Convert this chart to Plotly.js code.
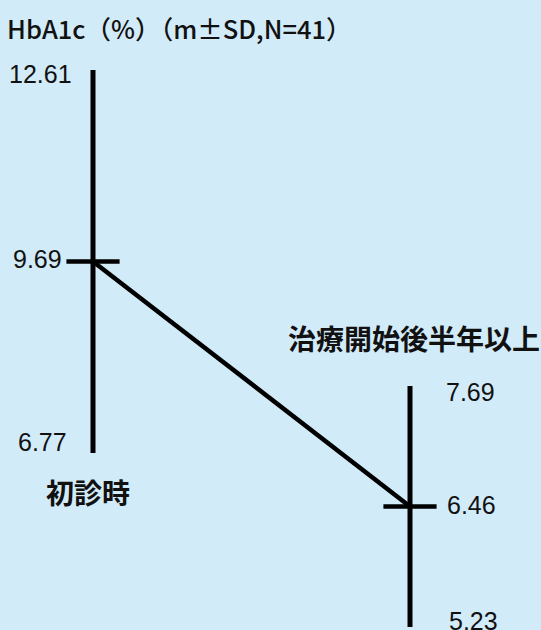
<!DOCTYPE html>
<html>
<head>
<meta charset="utf-8">
<script src="https://cdn.plot.ly/plotly-3.0.1.min.js"></script>
<style>html,body{margin:0;padding:0;background:#d1ebf9;}#chart{width:541px;height:630px;}</style>
</head>
<body>
<div id="chart"></div>
<script>
// Data
const categories = ["初診時", "治療開始後半年以上"];
const meanValues = [9.69, 6.46];
const sdValues = [2.92, 1.23];
const upperLabels = ["12.61", "7.69"];
const meanLabels = ["9.69", "6.46"];
const lowerLabels = ["6.77", "5.23"];
const titleText = "HbA1c（%）（m±SD,N=41）";

const bg = "#d1ebf9";
const y1Range = [4.071, 13.677];
const y2Range = [5.199, 11.630];

function toY1(v2) {
  return y1Range[0] + (v2 - y2Range[0]) / (y2Range[1] - y2Range[0]) * (y1Range[1] - y1Range[0]);
}

const upper = meanValues.map((m, i) => m + sdValues[i]);
const lower = meanValues.map((m, i) => m - sdValues[i]);

const traces = [];
// connecting line of means
traces.push({
  x: [0, 1], y: [meanValues[0], toY1(meanValues[1])],
  mode: "lines", line: {color: "#000", width: 4.5}, yaxis: "y",
  hoverinfo: "skip", showlegend: false
});
const yaxes = ["y", "y2"];
for (let i = 0; i < 2; i++) {
  traces.push({
    x: [i], y: [meanValues[i]], yaxis: yaxes[i],
    mode: "markers",
    marker: {symbol: "line-ew-open", size: 38, color: "#000", line: {color: "#000", width: 4.5}},
    error_y: {type: "data", array: [sdValues[i]], symmetric: true, width: 0, thickness: 5, color: "#000"},
    hoverinfo: "skip", showlegend: false
  });
}

const numFont = {family: "Liberation Sans, Arial, sans-serif", size: 25, color: "#111"};
const catFont = {family: "Noto Sans CJK JP", size: 28, color: "#111", weight: "bold"};

const annotations = [
  {x: 0, y: upper[0], yref: "y", text: upperLabels[0], xanchor: "right", yanchor: "middle", xshift: -19, yshift: -4, font: numFont},
  {x: 0, y: meanValues[0], yref: "y", text: meanLabels[0], xanchor: "right", yanchor: "middle", xshift: -29, yshift: 2, font: numFont},
  {x: 0, y: lower[0], yref: "y", text: lowerLabels[0], xanchor: "right", yanchor: "middle", xshift: -24, yshift: 11, font: numFont},
  {x: 0, y: lower[0], yref: "y", text: categories[0], xanchor: "center", yanchor: "middle", xshift: -5, yshift: -39, font: catFont},
  {x: 1, y: upper[1], yref: "y2", text: upperLabels[1], xanchor: "left", yanchor: "middle", xshift: 34, yshift: -6, font: numFont},
  {x: 1, y: meanValues[1], yref: "y2", text: meanLabels[1], xanchor: "left", yanchor: "middle", xshift: 35, yshift: 1, font: numFont},
  {x: 1, y: lower[1], yref: "y2", text: lowerLabels[1], xanchor: "left", yanchor: "middle", xshift: 37, yshift: 6, font: numFont},
  {x: 1, y: upper[1], yref: "y2", text: categories[1], xanchor: "center", yanchor: "middle", xshift: 4, yshift: 48, font: catFont}
];
annotations.forEach(a => { a.xref = "x"; a.showarrow = false; });

const layout = {
  width: 541, height: 630,
  margin: {l: 0, r: 0, t: 0, b: 0, pad: 0},
  paper_bgcolor: bg, plot_bgcolor: bg,
  title: {text: titleText, x: 7/541, xanchor: "left", xref: "paper", y: 1 - 30/630, yanchor: "middle", yref: "container",
          font: {family: "Noto Sans CJK JP", size: 25.5, color: "#111", weight: 500}},
  xaxis: {range: [-93/317, 448/317], visible: false, fixedrange: true},
  yaxis: {range: y1Range, visible: false, fixedrange: true},
  yaxis2: {range: y2Range, visible: false, overlaying: "y", fixedrange: true},
  showlegend: false,
  annotations: annotations
};

Plotly.newPlot("chart", traces, layout, {displayModeBar: false, staticPlot: true});
</script>
</body>
</html>
